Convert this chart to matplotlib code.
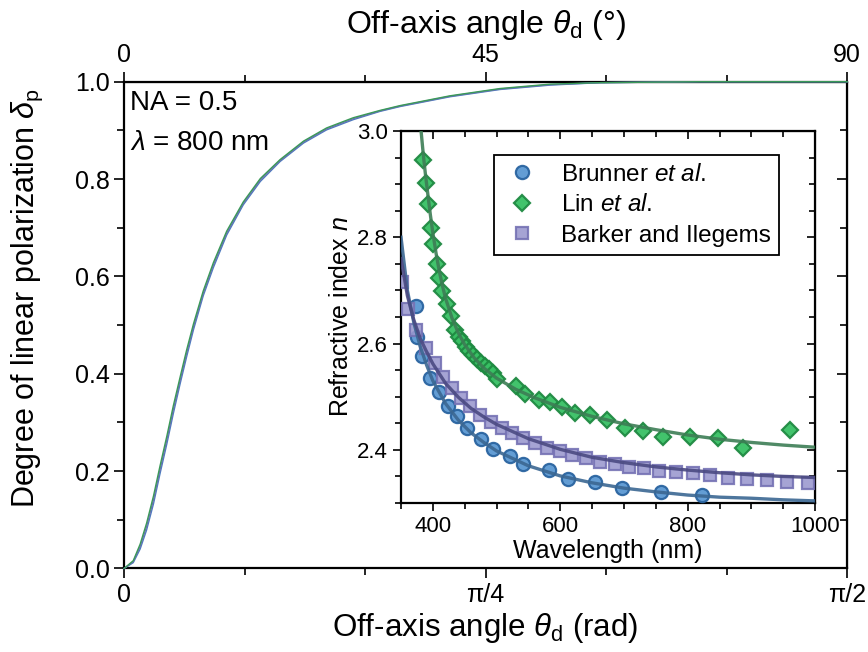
import numpy as np
import matplotlib
matplotlib.use("Agg")
import matplotlib.pyplot as plt

plt.rcParams['font.family'] = ['Liberation Sans', 'DejaVu Sans']
plt.rcParams['mathtext.fontset'] = 'custom'
plt.rcParams['mathtext.rm'] = 'Liberation Sans'
plt.rcParams['mathtext.it'] = 'Liberation Sans:italic'
plt.rcParams['mathtext.sf'] = 'Liberation Sans'

# degree of linear polarization vs off-axis angle (NA = 0.5, 800 nm)
theta_rad = [0, 0.020, 0.035, 0.049, 0.064, 0.078, 0.093, 0.107, 0.122, 0.136,
             0.151, 0.172, 0.194, 0.223, 0.259, 0.296, 0.339, 0.390, 0.440, 0.498,
             0.556, 0.600, 0.708, 0.817, 0.926, 1.034, 1.251, 1.571]
dop_brunner = [0, 0.012, 0.040, 0.079, 0.133, 0.194, 0.256, 0.318, 0.380, 0.435,
               0.491, 0.560, 0.618, 0.685, 0.747, 0.795, 0.836, 0.874, 0.901, 0.922,
               0.939, 0.949, 0.969, 0.984, 0.993, 0.998, 1.0, 1.0]
dop_barker = [0, 0.014, 0.045, 0.086, 0.141, 0.202, 0.264, 0.326, 0.387, 0.442,
              0.497, 0.565, 0.623, 0.689, 0.750, 0.798, 0.838, 0.876, 0.903, 0.924,
              0.940, 0.950, 0.970, 0.985, 0.994, 0.998, 1.0, 1.0]
dop_lin = [0, 0.016, 0.050, 0.093, 0.149, 0.210, 0.272, 0.334, 0.394, 0.449,
           0.503, 0.570, 0.628, 0.693, 0.753, 0.801, 0.840, 0.878, 0.905, 0.926,
           0.941, 0.951, 0.971, 0.986, 0.995, 0.998, 1.0, 1.0]

# refractive index data (inset)
brunner_wl = [373.5, 375.6, 382.5, 395.5, 409.7, 423.3, 437.4, 454.1, 475.1, 494.0,
              521.1, 542.0, 582.4, 612.7, 654.6, 697.4, 758.2, 822.1]
brunner_n = [2.670, 2.613, 2.576, 2.536, 2.508, 2.483, 2.463, 2.441, 2.420, 2.402,
             2.389, 2.373, 2.363, 2.345, 2.340, 2.329, 2.321, 2.315]

lin_wl = [385.0, 388.5, 392.0, 396.5, 400.5, 406.0, 410.0, 414.5, 422.0, 429.0,
          435.0, 441.0, 446.0, 452.0, 457.0, 463.0, 469.0, 476.0, 482.0, 488.0,
          494.0, 500.0, 531.0, 545.0, 566.0, 584.0, 602.0, 623.0, 647.0, 673.0,
          701.0, 730.0, 762.0, 804.0, 848.0, 887.0, 960.0]
lin_n = [2.946, 2.903, 2.862, 2.818, 2.787, 2.750, 2.724, 2.699, 2.674, 2.652,
         2.626, 2.612, 2.604, 2.594, 2.586, 2.578, 2.571, 2.564, 2.558, 2.552,
         2.545, 2.533, 2.520, 2.505, 2.494, 2.490, 2.480, 2.469, 2.466, 2.457,
         2.441, 2.435, 2.425, 2.425, 2.423, 2.403, 2.438]

barker_wl = [351.0, 361.5, 373.6, 388.8, 403.4, 416.4, 430.5, 444.2, 458.3, 474.0,
             491.3, 508.1, 523.8, 542.0, 560.4, 579.7, 599.6, 618.9, 640.5, 662.4,
             686.0, 708.0, 731.5, 755.5, 781.8, 808.9, 835.1, 863.9, 892.7, 924.1,
             955.5, 989.5]
barker_n = [2.715, 2.665, 2.625, 2.592, 2.564, 2.538, 2.516, 2.498, 2.482, 2.466,
            2.452, 2.441, 2.432, 2.422, 2.413, 2.404, 2.397, 2.391, 2.384, 2.378,
            2.374, 2.368, 2.365, 2.361, 2.359, 2.356, 2.353, 2.347, 2.345, 2.343,
            2.340, 2.338]

# dispersion fits
brunner_fit_wl = [350, 360, 370, 380, 390, 400, 420, 440, 460, 480, 500, 550, 600,
                  650, 700, 750, 800, 850, 900, 950, 1000]
brunner_fit_n = [2.800, 2.700, 2.640, 2.595, 2.560, 2.530, 2.487, 2.456, 2.432, 2.414,
                 2.398, 2.370, 2.351, 2.338, 2.328, 2.321, 2.315, 2.311, 2.309, 2.306,
                 2.304]
barker_fit_wl = [350, 360, 370, 380, 390, 400, 420, 440, 460, 480, 500, 550, 600,
                 650, 700, 750, 800, 850, 900, 950, 1000]
barker_fit_n = [2.760, 2.690, 2.645, 2.610, 2.585, 2.562, 2.525, 2.499, 2.478, 2.462,
                2.448, 2.421, 2.401, 2.386, 2.376, 2.368, 2.362, 2.357, 2.353, 2.350,
                2.348]
lin_fit_wl = [381.5, 384, 386, 388, 390, 393, 396, 400, 405, 410, 415, 420, 430, 440,
              450, 465, 480, 500, 530, 560, 600, 650, 700, 750, 800, 850, 900, 950, 1000]
lin_fit_n = [3.000, 2.968, 2.944, 2.922, 2.902, 2.872, 2.843, 2.808, 2.770, 2.737,
             2.709, 2.685, 2.648, 2.620, 2.598, 2.573, 2.554, 2.535, 2.514, 2.498,
             2.480, 2.463, 2.449, 2.438, 2.428, 2.420, 2.414, 2.409, 2.405]

c_blue, c_green, c_purple = '#4a7cc0', '#3a9a58', '#7070b2'

fig = plt.figure(figsize=(8.68, 6.52), dpi=100)
ax = fig.add_axes([0.1429, 0.1281, 0.8330, 0.7466])

for y, c in [(dop_brunner, c_blue), (dop_barker, c_purple), (dop_lin, c_green)]:
    ax.plot(theta_rad, y, color=c, lw=1.0, clip_on=False, zorder=5)

ax.set_xlim(0, np.pi / 2)
ax.set_ylim(0, 1)
ax.set_xticks([0, np.pi / 4, np.pi / 2])
ax.set_xticklabels(['0', 'π/4', 'π/2'])
ax.set_xticks([np.pi / 12, np.pi / 6, np.pi / 3, 5 * np.pi / 12], minor=True)
ax.set_yticks([0, 0.2, 0.4, 0.6, 0.8, 1.0])
ax.set_yticks([0.1, 0.3, 0.5, 0.7, 0.9], minor=True)
ax.tick_params(which='both', direction='out', width=1.2, labelsize=18, top=False, right=False)
ax.tick_params(which='major', length=7)
ax.tick_params(which='minor', length=5)
for s in ax.spines.values():
    s.set_linewidth(1.6)
ax.set_xlabel(r'Off-axis angle $\theta_\mathsf{d}$ (rad)', fontsize=22.5, labelpad=3)
ax.set_ylabel(r'Degree of linear polarization $\delta_\mathsf{p}$', fontsize=22)
ax.yaxis.set_label_coords(-0.11, 0.555)

top = ax.secondary_xaxis('top', functions=(np.rad2deg, np.deg2rad))
top.set_xticks([0, 45, 90])
top.set_xticks([15, 30, 60, 75], minor=True)
top.tick_params(which='both', direction='out', width=1.2, labelsize=18)
top.tick_params(which='major', length=7)
top.tick_params(which='minor', length=5)
top.set_xlabel(r'Off-axis angle $\theta_\mathsf{d}$ (°)', fontsize=23, labelpad=7)

right = ax.secondary_yaxis('right')
right.set_yticks([0, 0.2, 0.4, 0.6, 0.8, 1.0])
right.set_yticks([0.1, 0.3, 0.5, 0.7, 0.9], minor=True)
right.tick_params(which='both', direction='in', width=1.2, labelright=False)
right.tick_params(which='major', length=7)
right.tick_params(which='minor', length=5)

ax.text(0.008, 0.982, 'NA = 0.5', transform=ax.transAxes, fontsize=20, va='top')
ax.text(0.008, 0.900, r'$\lambda$ = 800 nm', transform=ax.transAxes, fontsize=20, va='top')

# inset: refractive index dispersion
axi = fig.add_axes([0.4620, 0.2285, 0.4770, 0.5706])
axi.plot(brunner_wl, brunner_n, 'o', ms=9.5, mfc='#5b98d2', mec='#2a64a0', mew=1.6,
         alpha=0.95, label=r'Brunner $et\ al.$', zorder=3)
axi.plot(lin_wl, lin_n, 'D', ms=8.5, mfc='#38c064', mec='#1f8a42', mew=1.6,
         alpha=0.95, label=r'Lin $et\ al.$', zorder=3)
axi.plot(barker_wl, barker_n, 's', ms=8, mfc='#9c9ad0', mec='#7672b4', mew=1.6,
         alpha=0.9, label='Barker and Ilegems', zorder=3)
axi.plot(brunner_fit_wl, brunner_fit_n, color='#3b6792', lw=2.4, alpha=0.9, zorder=4)
axi.plot(barker_fit_wl, barker_fit_n, color='#4b4a82', lw=2.4, alpha=0.9, zorder=4)
axi.plot(lin_fit_wl, lin_fit_n, color='#3d7d55', lw=2.4, alpha=0.9, zorder=4)

axi.set_xlim(350, 1000)
axi.set_ylim(2.3, 3.0)
axi.set_xticks([400, 600, 800, 1000])
axi.set_xticks(np.arange(350, 1001, 50), minor=True)
axi.set_yticks([2.4, 2.6, 2.8, 3.0])
axi.set_yticks(np.arange(2.3, 3.001, 0.05), minor=True)
axi.tick_params(which='both', direction='out', width=1.2, labelsize=16, top=False, right=False)
axi.tick_params(which='major', length=6)
axi.tick_params(which='minor', length=4)
for s in axi.spines.values():
    s.set_linewidth(1.6)
axi.set_xlabel('Wavelength (nm)', fontsize=18, labelpad=1)
axi.set_ylabel(r'Refractive index $n$', fontsize=18, labelpad=3)

itop = axi.secondary_xaxis('top')
itop.set_xticks([400, 600, 800, 1000])
itop.set_xticks(np.arange(350, 1001, 50), minor=True)
itop.tick_params(which='both', direction='in', width=1.2, labeltop=False)
itop.tick_params(which='major', length=6)
itop.tick_params(which='minor', length=4)
iright = axi.secondary_yaxis('right')
iright.set_yticks([2.4, 2.6, 2.8, 3.0])
iright.set_yticks(np.arange(2.3, 3.001, 0.05), minor=True)
iright.tick_params(which='both', direction='in', width=1.2, labelright=False)
iright.tick_params(which='major', length=6)
iright.tick_params(which='minor', length=4)

leg = axi.legend(loc='upper left', bbox_to_anchor=(0.2246, 0.9355), fontsize=17.5,
                 frameon=True, fancybox=False, edgecolor='black', framealpha=1,
                 borderpad=0.35, labelspacing=0.35, handletextpad=0.8, handlelength=1.6,
                 borderaxespad=0)
leg.get_frame().set_linewidth(1.3)

fig.savefig('out.png', dpi=100)
